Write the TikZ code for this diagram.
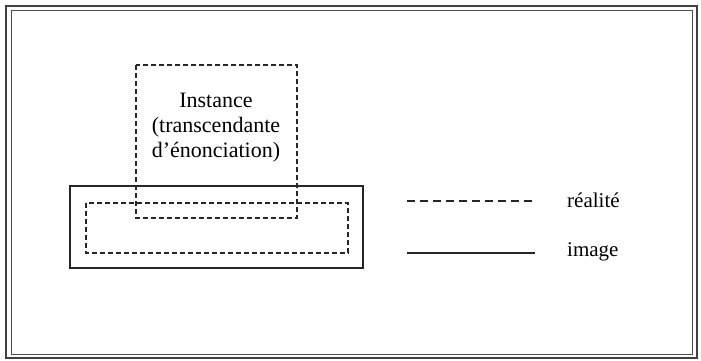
\documentclass[tikz,border=0pt]{standalone}
\usepackage{fontspec}
\setmainfont{Liberation Serif}
\tikzstyle{realBox} = [draw=black!85, line width=1.3pt, dash pattern=on 5pt off 3pt]
\tikzstyle{imageBox} = [draw=black!85, line width=1.3pt]
\tikzstyle{legendText} = [anchor=west, inner sep=0pt, font=\fontsize{21}{24}\selectfont]

\begin{document}
\begin{tikzpicture}[x=1pt, y=-1pt]
  \useasboundingbox (0,0) rectangle (701,361);
  % cadre double
  \draw [black!75, line width=2.5pt] (6,6) rectangle (697,358);
  \draw [black!70, line width=1pt] (11,11) rectangle (692,354);

  % image et realite
  \draw [imageBox] (70,186) rectangle (363,268);
  \draw [realBox] (86,203) rectangle (348,253);
  \draw [realBox] (136,65) rectangle (297,218);

  \node (INS) [align=center, font=\fontsize{22}{25}\selectfont] at (216,128)
    {Instance\\(transcendante\\d'énonciation)};

  % legende
  \coordinate (RA) at (407,201);
  \coordinate (RB) at (535,201);
  \coordinate (IA) at (407,253);
  \coordinate (IB) at (535,253);
  \draw [imageBox, dash pattern=on 8pt off 5pt] (RA) -- (RB);
  \draw [imageBox] (IA) -- (IB);
  \node (REA) [legendText] at (567,200) {réalité};
  \node (IMG) [legendText] at (567,252) {image};

\end{tikzpicture}
\end{document}
